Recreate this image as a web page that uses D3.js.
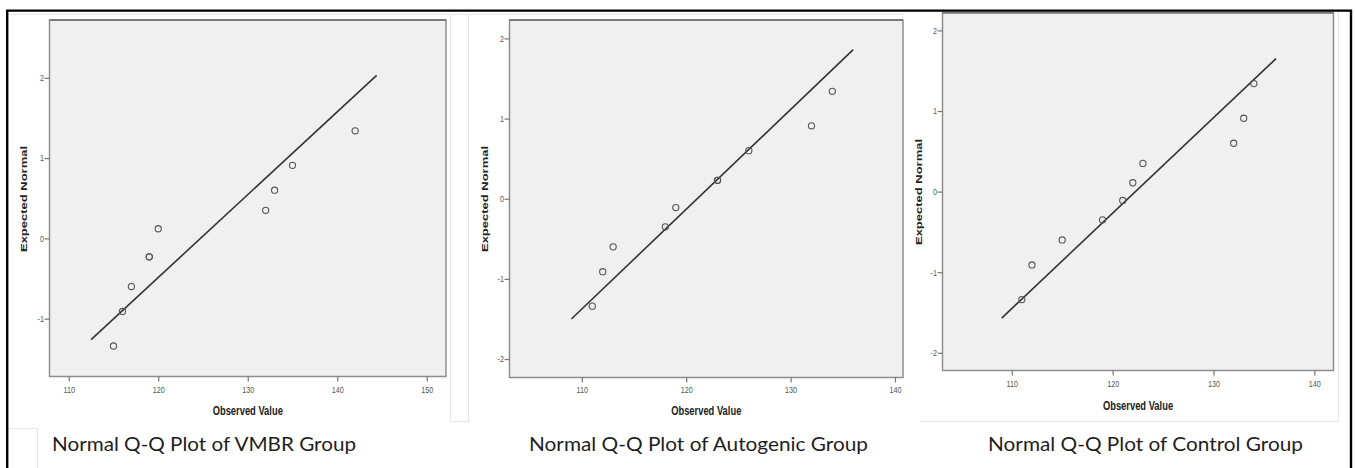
<!DOCTYPE html>
<html>
<head>
<meta charset="utf-8">
<script src="https://cdn.jsdelivr.net/npm/d3@7"></script>
<style>
  body { margin: 0; background: #fff; }
  svg { display: block; }
</style>
</head>
<body>
<svg id="chart" width="1355" height="468"></svg>
<script>
// data
const captions = ["Normal Q-Q Plot of VMBR Group", "Normal Q-Q Plot of Autogenic Group", "Normal Q-Q Plot of Control Group"];

const vmbrObserved = [115, 116, 117, 119, 119, 120, 132, 133, 135, 142];
const vmbrExpected = [-1.34, -0.91, -0.60, -0.23, -0.23, 0.12, 0.35, 0.60, 0.91, 1.34];
const vmbrLine = [[112.5, -1.26], [144.4, 2.03]];

const autogenicObserved = [111, 112, 113, 118, 119, 123, 123, 126, 132, 134];
const autogenicExpected = [-1.34, -0.91, -0.60, -0.35, -0.11, 0.23, 0.23, 0.60, 0.91, 1.34];
const autogenicLine = [[109.0, -1.50], [136.0, 1.86]];

const controlObserved = [111, 112, 115, 119, 121, 122, 123, 132, 133, 134];
const controlExpected = [-1.34, -0.91, -0.60, -0.35, -0.11, 0.11, 0.35, 0.60, 0.91, 1.34];
const controlLine = [[109.0, -1.57], [136.2, 1.65]];

const xTicksVmbr = [110, 120, 130, 140, 150];
const xTicksOther = [110, 120, 130, 140];
const yTicksVmbr = [-1, 0, 1, 2];
const yTicksOther = [-2, -1, 0, 1, 2];

const xTitle = "Observed Value";
const yTitle = "Expected Normal";

const svg = d3.select("#chart");

// light borders of the pasted images
const frame = svg.append("g").attr("fill", "none").attr("stroke", "#e6e6e6").attr("stroke-width", 1);
frame.append("path").attr("d", "M8,14.5H451M450.5,14.5V422");
frame.append("rect").attr("x", 450.5).attr("y", 14.5).attr("width", 18).attr("height", 407);
frame.append("path").attr("d", "M468,14.5H904");
frame.append("path").attr("d", "M1338.5,10V421.5H920");
frame.append("path").attr("d", "M8,428.5H37.5V468");

const panels = [
  { obs: vmbrObserved, exp: vmbrExpected, line: vmbrLine, xt: xTicksVmbr, yt: yTicksVmbr, cap: captions[0],
    box: { l: 49.5, t: 20, r: 446, b: 376.5 }, xd: [107.85, 152.15], yd: [-1.72, 2.72],
    xtY: 392.5, titleY: 410, ytX: 24, ytY: 199, capX: 52, capW: 304 },
  { obs: autogenicObserved, exp: autogenicExpected, line: autogenicLine, xt: xTicksOther, yt: yTicksOther, cap: captions[1],
    box: { l: 509.5, t: 20, r: 903, b: 377.5 }, xd: [103.07, 140.77], yd: [-2.23, 2.23],
    xtY: 393, titleY: 410.5, ytX: 484.5, ytY: 199, capX: 529, capW: 339 },
  { obs: controlObserved, exp: controlExpected, line: controlLine, xt: xTicksOther, yt: yTicksOther, cap: captions[2],
    box: { l: 942.5, t: 12.7, r: 1333.5, b: 370.5 }, xd: [103.13, 141.9], yd: [-2.22, 2.22],
    xtY: 386.5, titleY: 405, ytX: 918.5, ytY: 192, capX: 988, capW: 315 }
];

// SPSS prints a plain hyphen for negatives
const plain = d => String(d);

panels.forEach(p => {
  const x = d3.scaleLinear().domain(p.xd).range([p.box.l, p.box.r]);
  const y = d3.scaleLinear().domain(p.yd).range([p.box.b, p.box.t]);
  const g = svg.append("g");

  // plot background
  g.append("rect")
    .attr("x", p.box.l).attr("y", p.box.t)
    .attr("width", p.box.r - p.box.l).attr("height", p.box.b - p.box.t)
    .attr("fill", "#f0f0f0").attr("stroke", "#8e8e8e").attr("stroke-width", 1.5);
  g.append("line")
    .attr("x1", p.box.l).attr("x2", p.box.r).attr("y1", p.box.t).attr("y2", p.box.t)
    .attr("stroke", "#7a7a7a").attr("stroke-width", 2.2);

  // axes
  const xa = g.append("g").attr("transform", `translate(0,${p.box.b})`)
    .call(d3.axisBottom(x).tickValues(p.xt).tickFormat(plain).tickSize(5).tickSizeOuter(0));
  const ya = g.append("g").attr("transform", `translate(${p.box.l},0)`)
    .call(d3.axisLeft(y).tickValues(p.yt).tickFormat(plain).tickSize(5).tickSizeOuter(0).tickPadding(2));
  [xa, ya].forEach(a => {
    a.select(".domain").remove();
    a.selectAll(".tick line").attr("stroke", "#777").attr("stroke-width", 1.2);
    a.selectAll(".tick text")
      .attr("fill", "#555")
      .style("font-family", "'Liberation Sans', Arial, sans-serif")
      .style("font-size", "9px")
      .attr("transform", "scale(0.8,1)");
  });
  xa.selectAll(".tick text").attr("y", null).attr("dy", null)
    .attr("transform", `translate(0,${p.xtY - p.box.b}) scale(0.8,1)`);

  // reference line
  g.append("line")
    .attr("x1", x(p.line[0][0])).attr("y1", y(p.line[0][1]))
    .attr("x2", x(p.line[1][0])).attr("y2", y(p.line[1][1]))
    .attr("stroke", "#333").attr("stroke-width", 1.6);

  // points
  g.append("g").selectAll("circle")
    .data(p.obs.map((v, i) => [v, p.exp[i]]))
    .join("circle")
    .attr("cx", d => x(d[0])).attr("cy", d => y(d[1]))
    .attr("r", 3.1)
    .attr("fill", "none").attr("stroke", "#555").attr("stroke-width", 1.1);

  // axis titles
  g.append("text")
    .attr("transform", `translate(${(p.box.l + p.box.r) / 2},${p.titleY}) scale(0.72,1)`)
    .attr("text-anchor", "middle").attr("dominant-baseline", "central")
    .style("font-family", "'Liberation Sans', Arial, sans-serif")
    .style("font-size", "13px").style("font-weight", "bold").attr("fill", "#222")
    .text(xTitle);
  g.append("text")
    .attr("transform", `translate(${p.ytX},${p.ytY}) scale(0.72,1) rotate(-90)`)
    .attr("text-anchor", "middle").attr("dominant-baseline", "central")
    .style("font-family", "'Liberation Sans', Arial, sans-serif")
    .style("font-size", "13px").style("font-weight", "bold").attr("fill", "#222")
    .text(yTitle);

  // caption under each plot
  svg.append("text")
    .attr("x", p.capX).attr("y", 451)
    .attr("textLength", p.capW).attr("lengthAdjust", "spacingAndGlyphs")
    .style("font-family", "Lato, 'Open Sans', sans-serif")
    .style("font-size", "19px").attr("fill", "#1e1e1e")
    .text(p.cap);
});

// outer black border
svg.append("path")
  .attr("d", "M7.2,468V10.6H1351V468")
  .attr("fill", "none").attr("stroke", "#000").attr("stroke-width", 2.4);
</script>
</body>
</html>
